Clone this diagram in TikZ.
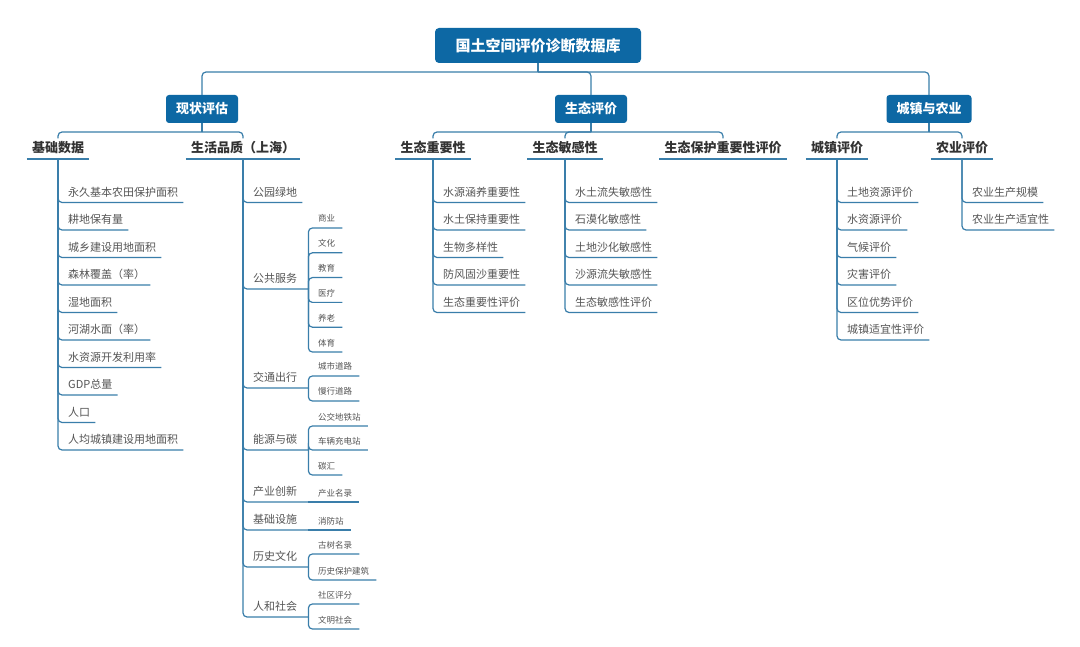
\documentclass[tikz,border=0pt]{standalone}
\usepackage{fontspec}
\newfontfamily\cjk{Noto Sans CJK SC}
\usepackage{tikz}
\definecolor{boxblue}{RGB}{13,104,164}
\definecolor{linkblue}{RGB}{58,126,170}
\definecolor{headgray}{RGB}{51,51,51}
\definecolor{itemgray}{RGB}{85,85,85}

\begin{document}
\begin{tikzpicture}[x=1pt,y=-1pt,
	root node/.style={rectangle,rounded corners=4pt,fill=boxblue,text=white,font=\cjk\fontsize{15}{18}\selectfont\bfseries,minimum width=206pt,minimum height=35pt},
	main node/.style={rectangle,rounded corners=3pt,fill=boxblue,text=white,font=\cjk\fontsize{13}{16}\selectfont\bfseries,minimum height=28pt,inner xsep=10pt},
	head node/.style={anchor=south,text=headgray,font=\cjk\fontsize{13}{16}\selectfont\bfseries,inner xsep=5pt,inner ysep=3pt,text depth=3pt},
	item node/.style={anchor=south west,text=itemgray,font=\cjk\fontsize{11}{13}\selectfont,inner xsep=5pt,inner ysep=3pt,text depth=3pt},
	mid node/.style={item node,text width=50pt},
	leaf node/.style={anchor=south west,text=itemgray,font=\cjk\fontsize{8.5}{10}\selectfont,inner xsep=7pt,inner ysep=3pt,text depth=2.8pt},
	link/.style={draw=linkblue,line width=1.2pt},
	tree/.style={every edge/.style={link,rounded corners=4pt,to path={|- (\tikztotarget)}}},
	drop/.style={every edge/.style={link,rounded corners=4pt,to path={-| (\tikztotarget)}}}]
	\useasboundingbox[fill=white] (0,0) rectangle (1080,647);
	
	\node[root node] (root) at (538,45.5) {国土空间评价诊断数据库};
	\node[main node] (xz) at (202,109) {现状评估};
	\node[main node] (st) at (591,109) {生态评价};
	\node[main node] (cz) at (929,109) {城镇与农业};
	
	\node[head node] (jc) at (58,159) {基础数据};
	\node[head node] (sh) at (243,159) {生活品质（上海）};
	\node[head node] (zy) at (433,159) {生态重要性};
	\node[head node] (mg) at (565,159) {生态敏感性};
	\node[head node] (bh) at (723,159) {生态保护重要性评价};
	\node[head node] (cp) at (837,159) {城镇评价};
	\node[head node] (ny) at (962,159) {农业评价};
	
	\coordinate (rj) at (538,72);
	\coordinate (xzj) at (202,132);
	\coordinate (stj) at (591,132);
	\coordinate (czj) at (929,132);
	\draw[link] (root.south) -- (rj) (xz.south) -- (xzj) (st.south) -- (stj) (cz.south) -- (czj);
	\path[drop] (rj) edge (xz.north) edge (st.north) edge (cz.north);
	\path[drop] (xzj) edge (jc.north) edge (sh.north);
	\path[drop] (stj) edge (zy.north) edge (mg.north) edge (bh.north);
	\path[drop] (czj) edge (cp.north) edge (ny.north);
	\draw[link] (jc.south west) -- (jc.south east) (sh.south west) -- (sh.south east)
	(zy.south west) -- (zy.south east) (mg.south west) -- (mg.south east)
	(bh.south west) -- (bh.south east) (cp.south west) -- (cp.south east)
	(ny.south west) -- (ny.south east);
	
	% 基础数据
	\node[item node] (jc1) at (63,202.5) {永久基本农田保护面积};
	\node[item node] (jc2) at (63,230) {耕地保有量};
	\node[item node] (jc3) at (63,257.5) {城乡建设用地面积};
	\node[item node] (jc4) at (63,285) {森林覆盖（率）};
	\node[item node] (jc5) at (63,312.5) {湿地面积};
	\node[item node] (jc6) at (63,340) {河湖水面（率）};
	\node[item node] (jc7) at (63,367.5) {水资源开发利用率};
	\node[item node] (jc8) at (63,395) {GDP总量};
	\node[item node] (jc9) at (63,422.5) {人口};
	\node[item node] (jc10) at (63,450) {人均城镇建设用地面积};
	\path[tree] (jc.south) edge (jc1.south east) edge (jc2.south east) edge (jc3.south east)
	edge (jc4.south east) edge (jc5.south east) edge (jc6.south east) edge (jc7.south east)
	edge (jc8.south east) edge (jc9.south east) edge (jc10.south east);
	
	% 生活品质
	\node[item node] (sh1) at (248,202.5) {公园绿地};
	\node[mid node] (sh2) at (248,289) {公共服务};
	\node[mid node] (sh3) at (248,388) {交通出行};
	\node[mid node] (sh4) at (248,450) {能源与碳};
	\node[mid node] (sh5) at (248,502) {产业创新};
	\node[mid node] (sh6) at (248,530) {基础设施};
	\node[mid node] (sh7) at (248,567) {历史文化};
	\node[mid node] (sh8) at (248,617) {人和社会};
	\path[tree] (sh.south) edge (sh1.south east) edge (sh2.south east) edge (sh3.south east)
	edge (sh4.south east) edge (sh5.south east) edge (sh6.south east) edge (sh7.south east)
	edge (sh8.south east);
	
	\node[leaf node] (sh21) at (311,228) {商业};
	\node[leaf node] (sh22) at (311,252.8) {文化};
	\node[leaf node] (sh23) at (311,277.6) {教育};
	\node[leaf node] (sh24) at (311,302.4) {医疗};
	\node[leaf node] (sh25) at (311,327.2) {养老};
	\node[leaf node] (sh26) at (311,352) {体育};
	\path[tree] (sh2.south east) edge (sh21.south east) edge (sh22.south east) edge (sh23.south east)
	edge (sh24.south east) edge (sh25.south east) edge (sh26.south east);
	\node[leaf node] (sh31) at (311,376) {城市道路};
	\node[leaf node] (sh32) at (311,401) {慢行道路};
	\path[tree] (sh3.south east) edge (sh31.south east) edge (sh32.south east);
	\node[leaf node] (sh41) at (311,426) {公交地铁站};
	\node[leaf node] (sh42) at (311,450) {车辆充电站};
	\node[leaf node] (sh43) at (311,475) {碳汇};
	\path[tree] (sh4.south east) edge (sh41.south east) edge (sh42.south east) edge (sh43.south east);
	\node[leaf node] (sh51) at (311,502) {产业名录};
	\node[leaf node] (sh61) at (311,530) {消防站};
	\draw[link] (sh5.south east) -- (sh51.south east);
	\draw[link] (sh6.south east) -- (sh61.south east);
	\node[leaf node] (sh71) at (311,554) {古树名录};
	\node[leaf node] (sh72) at (311,580) {历史保护建筑};
	\path[tree] (sh7.south east) edge (sh71.south east) edge (sh72.south east);
	\node[leaf node] (sh81) at (311,604) {社区评分};
	\node[leaf node] (sh82) at (311,629) {文明社会};
	\path[tree] (sh8.south east) edge (sh81.south east) edge (sh82.south east);
	
	% 生态评价
	\node[item node] (zy1) at (438,202.5) {水源涵养重要性};
	\node[item node] (zy2) at (438,230) {水土保持重要性};
	\node[item node] (zy3) at (438,257.5) {生物多样性};
	\node[item node] (zy4) at (438,285) {防风固沙重要性};
	\node[item node] (zy5) at (438,312.5) {生态重要性评价};
	\path[tree] (zy.south) edge (zy1.south east) edge (zy2.south east) edge (zy3.south east)
	edge (zy4.south east) edge (zy5.south east);
	\node[item node] (mg1) at (570,202.5) {水土流失敏感性};
	\node[item node] (mg2) at (570,230) {石漠化敏感性};
	\node[item node] (mg3) at (570,257.5) {土地沙化敏感性};
	\node[item node] (mg4) at (570,285) {沙源流失敏感性};
	\node[item node] (mg5) at (570,312.5) {生态敏感性评价};
	\path[tree] (mg.south) edge (mg1.south east) edge (mg2.south east) edge (mg3.south east)
	edge (mg4.south east) edge (mg5.south east);
	
	% 城镇与农业
	\node[item node] (cp1) at (842,202.5) {土地资源评价};
	\node[item node] (cp2) at (842,230) {水资源评价};
	\node[item node] (cp3) at (842,257.5) {气候评价};
	\node[item node] (cp4) at (842,285) {灾害评价};
	\node[item node] (cp5) at (842,312.5) {区位优势评价};
	\node[item node] (cp6) at (842,340) {城镇适宜性评价};
	\path[tree] (cp.south) edge (cp1.south east) edge (cp2.south east) edge (cp3.south east)
	edge (cp4.south east) edge (cp5.south east) edge (cp6.south east);
	\node[item node] (ny1) at (967,202.5) {农业生产规模};
	\node[item node] (ny2) at (967,230) {农业生产适宜性};
	\path[tree] (ny.south) edge (ny1.south east) edge (ny2.south east);
\end{tikzpicture}
\end{document}
